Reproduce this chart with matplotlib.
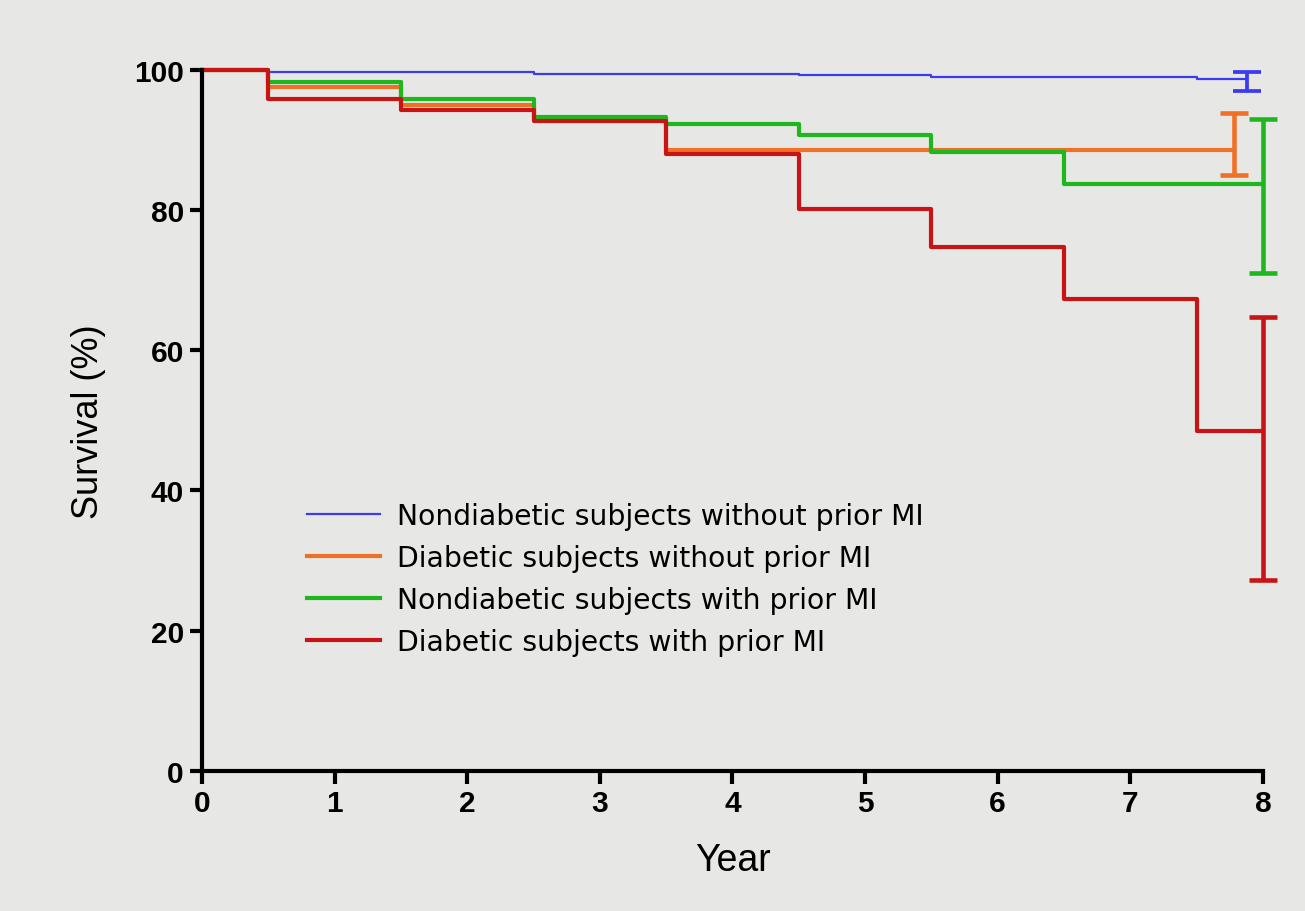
import matplotlib
matplotlib.use("Agg")
import matplotlib.pyplot as plt

plt.rcParams['font.family'] = ['Liberation Sans', 'DejaVu Sans']

# step times (years) and survival (%) for each group
times = [0, 0.5, 1.5, 2.5, 3.5, 4.5, 5.5, 6.5, 7.5]
labels = ["Nondiabetic subjects without prior MI",
          "Diabetic subjects without prior MI",
          "Nondiabetic subjects with prior MI",
          "Diabetic subjects with prior MI"]
nondm_no_mi = [100, 99.7, 99.6, 99.4, 99.4, 99.2, 99.0, 99.0, 98.6]
dm_no_mi = [100, 97.5, 95.0, 93.0, 88.5, 88.5, 88.5, 88.5, 88.5]
nondm_mi = [100, 98.3, 95.8, 93.3, 92.3, 90.7, 88.2, 83.7, 83.7]
dm_mi = [100, 95.8, 94.2, 92.7, 88.0, 80.2, 74.7, 67.3, 48.5]
end_times = [7.88, 7.78, 8.0, 8.0]
ci_low = [96.9, 85.0, 71.0, 27.3]
ci_high = [99.6, 93.8, 93.0, 64.8]

colors = ["#3b3bf2", "#f07025", "#1eb81e", "#c81414"]
widths = [1.6, 3.0, 3.0, 3.0]
series = [nondm_no_mi, dm_no_mi, nondm_mi, dm_mi]

bg = "#e7e8e5"
fig = plt.figure(figsize=(13.05, 9.12), dpi=100, facecolor=bg)
ax = fig.add_axes([0.1548, 0.1535, 0.8130, 0.7690], facecolor=bg)

for vals, end, lo, hi, c, lw, lab in zip(series, end_times, ci_low, ci_high,
                                         colors, widths, labels):
    xs = times + [end]
    ys = vals + [vals[-1]]
    ax.step(xs, ys, where="post", color=c, lw=lw, label=lab, clip_on=False)
    last = vals[-1]
    elw = max(lw, 2.4) + 0.3
    ax.errorbar([end], [last], yerr=[[last - lo], [hi - last]], fmt="none",
                ecolor=c, elinewidth=elw, capsize=10, capthick=elw,
                clip_on=False)

ax.set_xlim(0, 8)
ax.set_ylim(0, 100)
ax.set_xticks(range(0, 9))
ax.set_yticks(range(0, 101, 20))
for s in ["top", "right"]:
    ax.spines[s].set_visible(False)
for s in ["left", "bottom"]:
    ax.spines[s].set_linewidth(3)
ax.tick_params(direction="out", length=9, width=3, labelsize=21.5, pad=4)
for t in ax.get_xticklabels() + ax.get_yticklabels():
    t.set_fontweight("bold")
ax.set_xlabel("Year", fontsize=27, labelpad=18)
ax.set_ylabel("Survival (%)", fontsize=26, labelpad=20)

ax.legend(loc="upper left", bbox_to_anchor=(307 / 1305, 1 - 503 / 912),
          bbox_transform=fig.transFigure, frameon=False,
          prop={"family": "DejaVu Sans", "size": 20.3},
          handlelength=2.6, handletextpad=0.6, labelspacing=0.5,
          borderpad=0, borderaxespad=0)

fig.savefig("out.png", dpi=100, facecolor=bg)
